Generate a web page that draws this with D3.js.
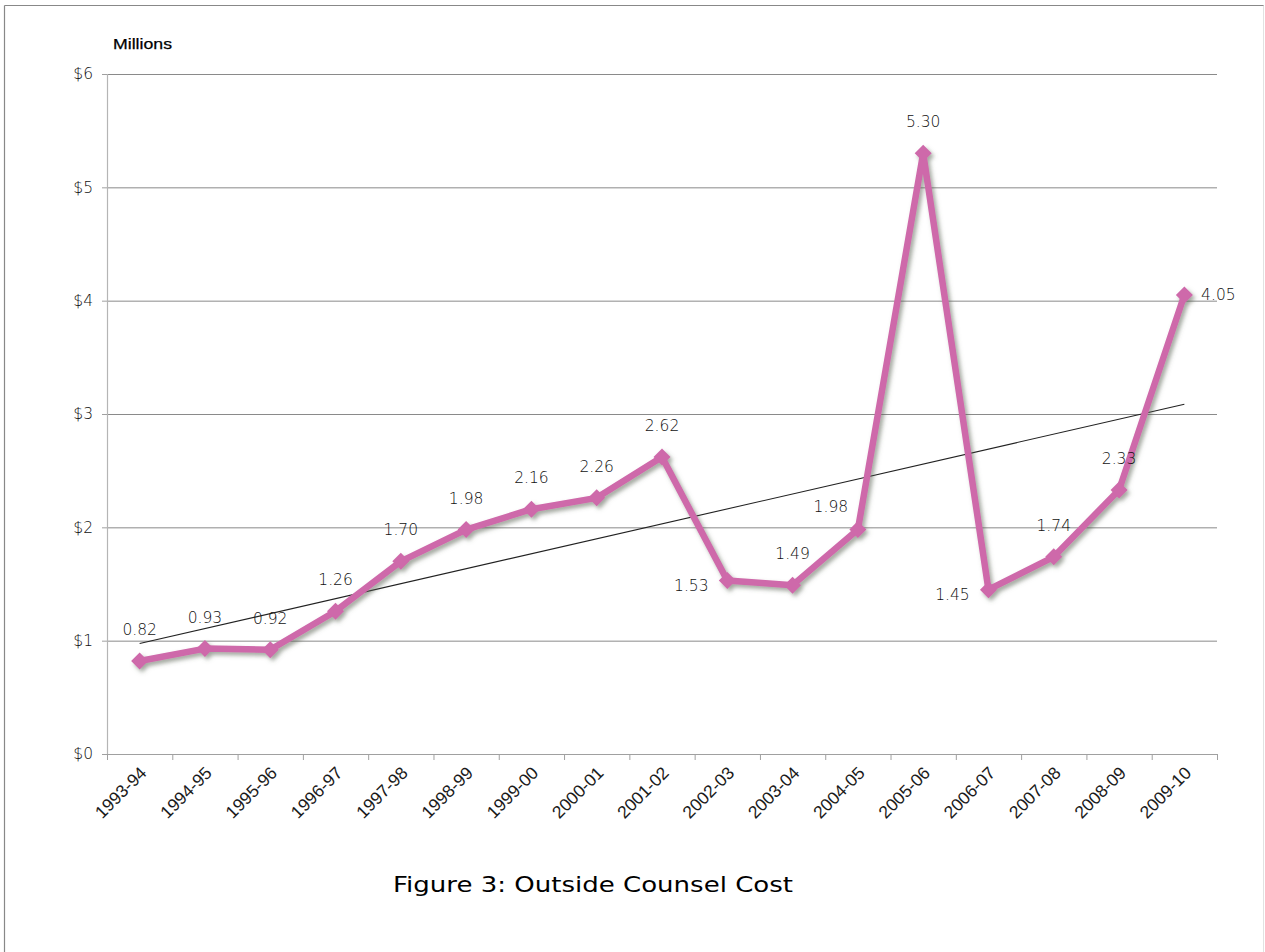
<!DOCTYPE html>
<html>
<head>
<meta charset="utf-8">
<script src="https://cdn.jsdelivr.net/npm/d3@7/dist/d3.min.js"></script>
<style>
  html, body { margin: 0; padding: 0; background: #fff; }
  svg { display: block; }
</style>
</head>
<body>
<svg id="chart" width="1265" height="952"></svg>
<script>
// ---- Data ----
const categories = ["1993-94","1994-95","1995-96","1996-97","1997-98","1998-99","1999-00","2000-01","2001-02","2002-03","2003-04","2004-05","2005-06","2006-07","2007-08","2008-09","2009-10"];
const values = [0.82,0.93,0.92,1.26,1.70,1.98,2.16,2.26,2.62,1.53,1.49,1.98,5.30,1.45,1.74,2.33,4.05];
const labelPlacement = ["above","above","above","above","above","above","above","above","above","left","above","aboveleft","above","left","above","above","right"];
const yTicks = [0,1,2,3,4,5,6];
const yUnitLabel = "Millions";
const titleText = "Figure 3: Outside Counsel Cost";

(function () {
// ---- Layout ----
const svg = d3.select("#chart");
const pLeft = 107, pRight = 1217, pTop = 74, pBottom = 754;
const pink = "#CE69AA";

// outer frame
svg.append("line").attr("x1",4.5).attr("x2",4.5).attr("y1",5.5).attr("y2",952).attr("stroke","#888").attr("stroke-width",1.2);
svg.append("line").attr("x1",4.5).attr("x2",1264).attr("y1",5.5).attr("y2",5.5).attr("stroke","#888").attr("stroke-width",1.2);
svg.append("line").attr("x1",1263.5).attr("x2",1263.5).attr("y1",5.5).attr("y2",952).attr("stroke","#e2e2e2").attr("stroke-width",1);

const x = d3.scaleBand().domain(categories).range([pLeft, pRight]).padding(0);
const y = d3.scaleLinear().domain([0, 6]).range([pBottom, pTop]);
const cx = d => x(d) + x.bandwidth() / 2;

// defs: shadow
const defs = svg.append("defs");
const f = defs.append("filter").attr("id","shadow").attr("x","-20%").attr("y","-20%").attr("width","140%").attr("height","140%");
f.append("feDropShadow").attr("dx",2.5).attr("dy",3).attr("stdDeviation",2).attr("flood-color","#556050").attr("flood-opacity",0.55);

// gridlines
const grid = svg.append("g").attr("transform", `translate(${pLeft},0)`)
  .call(d3.axisLeft(y).tickValues(yTicks.filter(t => t > 0)).tickSize(-(pRight-pLeft)).tickFormat(""));
grid.select(".domain").remove();
grid.selectAll("line").attr("stroke","#8a8a8a").attr("stroke-width",1);

// y axis
const yAxis = svg.append("g").attr("transform", `translate(${pLeft},0)`)
  .call(d3.axisLeft(y).tickValues(yTicks).tickSize(5).tickPadding(9).tickFormat(d => "$" + d));
yAxis.select(".domain").attr("stroke","#b5b5b5").attr("stroke-width",1.2).attr("d", `M0.5,${pTop}V${pBottom}`);
yAxis.selectAll("line").attr("stroke","#a0a0a0");
yAxis.selectAll("text").attr("font-family","DejaVu Sans").attr("font-weight",300).attr("font-size",15.5).attr("fill","#111");

// x axis
const tickPositions = categories.map(c => x(c)).concat([pRight]);
const xAxisScale = d3.scaleLinear().domain([pLeft, pRight]).range([pLeft, pRight]);
const xAxis = svg.append("g").attr("transform", `translate(0,${pBottom})`)
  .call(d3.axisBottom(xAxisScale).tickValues(tickPositions).tickSize(6).tickFormat(""));
xAxis.select(".domain").attr("stroke","#a0a0a0").attr("stroke-width",1.2).attr("d", `M${pLeft},0.5H${pRight}`);
xAxis.selectAll("line").attr("stroke","#a0a0a0");

// x labels
svg.append("g").selectAll("text").data(categories).join("text")
  .attr("transform", d => `translate(${cx(d)+8},${pBottom+20}) rotate(-45)`)
  .attr("text-anchor","end")
  .attr("font-family","Liberation Sans, Arial, sans-serif")
  .attr("font-size",17.5)
  .attr("fill","#1a1a1a")
  .text(d => d);

// unit label
svg.append("text").attr("x",113).attr("y",49).attr("font-family","Liberation Sans, Arial, sans-serif")
  .attr("font-size",15.5).attr("fill","#000").attr("stroke","#000").attr("stroke-width",0.25)
  .attr("textLength",59).attr("lengthAdjust","spacingAndGlyphs").text(yUnitLabel);

// trendline (least squares from the data)
const n = values.length;
const xs = d3.range(n);
const mx = d3.mean(xs), my = d3.mean(values);
const slope = d3.sum(xs, i => (i - mx) * (values[i] - my)) / d3.sum(xs, i => (i - mx) ** 2);
const intercept = my - slope * mx;
svg.append("line")
  .attr("x1", cx(categories[0])).attr("y1", y(intercept))
  .attr("x2", cx(categories[n-1])).attr("y2", y(intercept + slope * (n-1)))
  .attr("stroke","#222").attr("stroke-width",1.1);

// series
const series = values.map((v, i) => ({c: categories[i], v, p: labelPlacement[i]}));
const g = svg.append("g").attr("filter","url(#shadow)");
g.append("path").datum(series)
  .attr("d", d3.line().x(d => cx(d.c)).y(d => y(d.v)))
  .attr("fill","none").attr("stroke",pink).attr("stroke-width",6.5).attr("stroke-linejoin","round");
g.selectAll("path.m").data(series).join("path").attr("class","m")
  .attr("transform", d => `translate(${cx(d.c)},${y(d.v)})`)
  .attr("d","M0,-8.5L8.5,0L0,8.5L-8.5,0Z")
  .attr("fill",pink);

// data labels
const off = { above: [0, -31], left: [-36, 5], right: [34, 0], aboveleft: [-27, -23] };
svg.append("g").selectAll("text").data(series).join("text")
  .attr("x", d => cx(d.c) + off[d.p][0])
  .attr("y", d => y(d.v) + off[d.p][1])
  .attr("text-anchor","middle").attr("dominant-baseline","central")
  .attr("font-family","DejaVu Sans").attr("font-weight",300).attr("font-size",15.5).attr("fill","#111")
  .text(d => d.v.toFixed(2));

// title
svg.append("text").attr("x",593).attr("y",892).attr("text-anchor","middle")
  .attr("font-family","DejaVu Sans").attr("font-size",22).attr("fill","#000")
  .attr("textLength",400).attr("lengthAdjust","spacingAndGlyphs")
  .text(titleText);
})();
</script>
</body>
</html>
